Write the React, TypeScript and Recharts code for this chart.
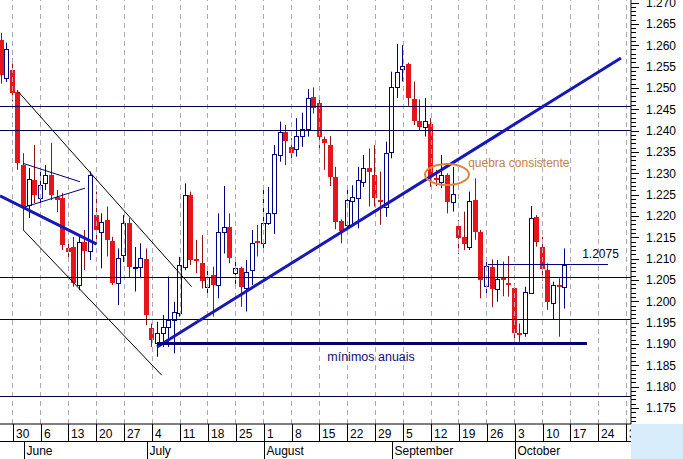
import { ComposedChart, Bar, XAxis, YAxis, ReferenceLine, ReferenceDot } from 'recharts';

// trading-day index: 0 = Mon 30 May 2005, first candle is Thu 26 May
const firstDay = -2;

const opens = [
  1.2612, 1.2523, 1.2543, 1.2491, 1.2319, 1.2226, 1.2284, 1.2241, 1.2276, 1.2296,
  1.2244, 1.2242, 1.2125, 1.2128, 1.2038, 1.2140, 1.2117, 1.2202, 1.2163, 1.2190,
  1.2142, 1.2042, 1.2108, 1.2183, 1.2079, 1.2080, 1.2098, 1.1937, 1.1902, 1.1925,
  1.1940, 1.1956, 1.1973, 1.2081, 1.2249, 1.2099, 1.2089, 1.2033, 1.2062, 1.2038,
  1.2162, 1.2175, 1.2066, 1.2077, 1.2030, 1.2073, 1.2142, 1.2136, 1.2184, 1.2208,
  1.2342, 1.2397, 1.2361, 1.2356, 1.2387, 1.2403, 1.2479, 1.2465, 1.2380, 1.2366,
  1.2292, 1.2188, 1.2179, 1.2236, 1.2241, 1.2280, 1.2313, 1.2296, 1.2237, 1.2222,
  1.2350, 1.2503, 1.2544, 1.2556, 1.2474, 1.2422, 1.2408, 1.2415, 1.2289, 1.2280,
  1.2296, 1.2233, 1.2176, 1.2150, 1.2128, 1.2237, 1.2163, 1.2036, 1.2080, 1.2028,
  1.2054, 1.2042, 1.2030, 1.1926, 1.1926, 1.2020, 1.2197, 1.2127, 1.2073, 1.1995,
  1.2039, 1.2033,
];
const highs = [
  1.2629, 1.2606, 1.2569, 1.2495, 1.2347, 1.2312, 1.2366, 1.2312, 1.2319, 1.2371,
  1.2261, 1.2254, 1.2144, 1.2151, 1.2151, 1.2167, 1.2304, 1.2257, 1.2206, 1.2222,
  1.2151, 1.2124, 1.2202, 1.2195, 1.2127, 1.2136, 1.2124, 1.1948, 1.1952, 1.1968,
  1.2058, 1.1999, 1.2104, 1.2276, 1.2257, 1.2144, 1.2155, 1.2081, 1.2081, 1.2206,
  1.2270, 1.2206, 1.2104, 1.2081, 1.2097, 1.2167, 1.2179, 1.2265, 1.2268, 1.2366,
  1.2421, 1.2413, 1.2382, 1.2429, 1.2442, 1.2497, 1.2501, 1.2473, 1.2386, 1.2387,
  1.2315, 1.2192, 1.2265, 1.2272, 1.2315, 1.2343, 1.2358, 1.2366, 1.2304, 1.2374,
  1.2538, 1.2603, 1.2600, 1.2559, 1.2515, 1.2473, 1.2476, 1.2429, 1.2308, 1.2343,
  1.2300, 1.2315, 1.2190, 1.2210, 1.2257, 1.2288, 1.2167, 1.2098, 1.2098, 1.2097,
  1.2093, 1.2106, 1.2042, 1.1948, 1.2034, 1.2223, 1.2202, 1.2151, 1.2089, 1.2046,
  1.2054, 1.2124,
];
const lows = [
  1.2510, 1.2514, 1.2468, 1.2308, 1.2167, 1.2195, 1.2230, 1.2230, 1.2261, 1.2237,
  1.2209, 1.2120, 1.2101, 1.2034, 1.2026, 1.2073, 1.2097, 1.2144, 1.2077, 1.2105,
  1.2038, 1.1991, 1.2092, 1.2055, 1.2023, 1.2054, 1.1944, 1.1893, 1.1870, 1.1893,
  1.1893, 1.1878, 1.1964, 1.2073, 1.2085, 1.2066, 1.2030, 1.2019, 1.1964, 1.2007,
  1.2112, 1.2089, 1.2034, 1.1987, 1.1976, 1.2038, 1.2105, 1.2124, 1.2179, 1.2158,
  1.2327, 1.2319, 1.2323, 1.2339, 1.2362, 1.2386, 1.2440, 1.2358, 1.2308, 1.2270,
  1.2169, 1.2136, 1.2167, 1.2175, 1.2171, 1.2268, 1.2222, 1.2222, 1.2179, 1.2198,
  1.2335, 1.2476, 1.2515, 1.2458, 1.2413, 1.2401, 1.2386, 1.2268, 1.2270, 1.2265,
  1.2206, 1.2210, 1.2111, 1.2120, 1.2120, 1.2144, 1.2007, 1.2019, 1.1986, 1.1999,
  1.2012, 1.2011, 1.1905, 1.1905, 1.1917, 1.2019, 1.2128, 1.2048, 1.1980, 1.1958,
  1.1917, 1.1983,
];
const closes = [
  1.2530, 1.2590, 1.2489, 1.2323, 1.2222, 1.2286, 1.2249, 1.2272, 1.2296, 1.2249,
  1.2237, 1.2132, 1.2115, 1.2042, 1.2140, 1.2117, 1.2296, 1.2167, 1.2186, 1.2144,
  1.2044, 1.2101, 1.2184, 1.2080, 1.2081, 1.2101, 1.1968, 1.1909, 1.1925, 1.1940,
  1.1956, 1.1975, 1.2085, 1.2249, 1.2097, 1.2094, 1.2048, 1.2058, 1.2038, 1.2163,
  1.2173, 1.2101, 1.2077, 1.2034, 1.2069, 1.2137, 1.2137, 1.2184, 1.2206, 1.2345,
  1.2397, 1.2376, 1.2347, 1.2387, 1.2403, 1.2477, 1.2452, 1.2384, 1.2370, 1.2291,
  1.2186, 1.2165, 1.2237, 1.2245, 1.2284, 1.2312, 1.2304, 1.2241, 1.2234, 1.2348,
  1.2501, 1.2538, 1.2551, 1.2476, 1.2423, 1.2409, 1.2422, 1.2292, 1.2285, 1.2296,
  1.2233, 1.2251, 1.2148, 1.2134, 1.2235, 1.2163, 1.2050, 1.2083, 1.2028, 1.2052,
  1.2050, 1.2037, 1.1926, 1.1923, 1.2022, 1.2194, 1.2140, 1.2076, 1.1999, 1.2038,
  1.2036, 1.2085,
];

// one label per Monday (index 0, 5, 10, ...)
const mondayLabels = ['30', '6', '13', '20', '27', '4', '11', '18', '25', '1', '8', '15', '22', '29', '5', '12', '19', '26', '3', '10', '17', '24', '31'];
const months = ['June', 'July', 'August', 'September', 'October'];
const monthStarts = [2, 24, 45, 68, 90];

// horizontal support / resistance levels
const levels = [1.2457, 1.2399, 1.2055, 1.1958, 1.1778];
const annualLow = { from: 25.87, to: 102.96, price: 1.19 };
const lastBreak = { from: 85.16, to: 106.72, price: 1.2087 };

// thin drawn lines (channel + triangle), [day1, price1, day2, price2]
const thinLines = [
  [1.0, 1.2491, 32.09, 1.2034],
  [1.9, 1.2167, 26.71, 1.1827],
  [1.9, 1.2323, 12.07, 1.2280],
  [2.2, 1.2221, 12.96, 1.2265],
];
// thick trend lines
const trendLines = [
  [-2.277, 1.2247, 15.06, 1.2134],
  [25.87, 1.1893, 109.05, 1.2570],
];

const W = 631;
const H = 424;

const candles = opens.map((o, i) => ({ d: firstDay + i, o, h: highs[i], l: lows[i], c: closes[i] }));

const priceTicks: number[] = [];
for (let k = 1172; k <= 1270; k++) priceTicks.push(k / 1000);

const dayTicks: number[] = [];
mondayLabels.forEach((_, i) => dayTicks.push(i * 5));
monthStarts.forEach((m) => { if (!dayTicks.includes(m)) dayTicks.push(m); });
dayTicks.sort((a, b) => a - b);

const font = 'Arial, "Liberation Sans", sans-serif';

const Candle = (props: any) => {
  const { x, y, width, height, payload } = props;
  if (!payload || !isFinite(x) || !isFinite(y)) return null;
  const c = Math.floor(x + width / 2);
  const top = Math.min(y, y + height);
  const bot = Math.max(y, y + height);
  const span = payload.h - payload.l || 1e-6;
  const py = (p: number) => top + ((payload.h - p) / span) * (bot - top);
  const bTop = Math.round(py(Math.max(payload.o, payload.c)));
  const bBot = Math.round(py(Math.min(payload.o, payload.c)));
  const up = payload.c >= payload.o;
  if (up) {
    return (
      <g>
        <line x1={c + 0.5} x2={c + 0.5} y1={top} y2={bot} stroke="#000080" />
        <rect x={c - 1.5} y={bTop + 0.5} width={4} height={Math.max(1, bBot - bTop)} fill="#fff" stroke="#000080" />
      </g>
    );
  }
  return (
    <g>
      <line x1={c + 0.5} x2={c + 0.5} y1={top} y2={bot} stroke="#8c1414" />
      <rect x={c - 2} y={bTop} width={5} height={Math.max(2, bBot - bTop)} fill="#e8141c" />
    </g>
  );
};

const PriceTick = ({ x, y, payload }: any) => {
  const v = payload.value;
  const major = Math.round(v * 1000) % 5 === 0;
  const yy = Math.round(y) + 0.5;
  return (
    <g>
      <line x1={x} x2={x + (major ? 8 : 5)} y1={yy} y2={yy} stroke="#000" />
      {major && (
        <text x={x + 15} y={y + 4.5} fontSize={12} fontFamily={font} fill="#000">
          {v.toFixed(3)}
        </text>
      )}
    </g>
  );
};

const DateTick = ({ x, y, payload }: any) => {
  const d = payload.value;
  const xx = Math.round(x) + 0.5;
  const m = monthStarts.indexOf(d);
  return (
    <g>
      {d === dayTicks[0] && <line x1={0} x2={W} y1={y + 17.5} y2={y + 17.5} stroke="#000" />}
      {d % 5 === 0 && (
        <g>
          <line x1={xx} x2={xx} y1={y} y2={y + 17} stroke="#000" />
          <text x={xx + 2.5} y={y + 14} fontSize={12} fontFamily={font} fill="#000">
            {mondayLabels[d / 5]}
          </text>
        </g>
      )}
      {m >= 0 && (
        <g>
          <line x1={xx} x2={xx} y1={y + 17} y2={y + 35} stroke="#000" />
          <text x={xx + 2} y={y + 31} fontSize={12} fontFamily={font} fill="#000">
            {months[m]}
          </text>
        </g>
      )}
    </g>
  );
};

const textDot = (value: string, color: string, size: number) => (p: any) => (
  <text x={p.cx} y={p.cy} fontSize={size} fontFamily={font} fill={color}>
    {value}
  </text>
);

export default function App() {
  return (
    <div style={{ position: 'relative', width: 683, height: 459, background: '#fff' }}>
      <style>{'body{margin:0}'}</style>
      <ComposedChart width={683} height={459} data={candles} margin={{ top: 0, right: 0, bottom: 0, left: 0 }}>
        <XAxis
          dataKey="d"
          type="number"
          domain={[-2.277, 110.85]}
          allowDataOverflow
          ticks={dayTicks}
          interval={0}
          height={35}
          tickSize={0}
          tickMargin={0}
          tickLine={false}
          axisLine={{ stroke: '#000' }}
          tick={<DateTick />}
        />
        <YAxis
          orientation="right"
          type="number"
          domain={[1.17125, 1.27059]}
          allowDataOverflow
          ticks={priceTicks}
          interval={0}
          width={683 - W}
          tickSize={0}
          tickMargin={0}
          tickLine={false}
          axisLine={{ stroke: '#000' }}
          tick={<PriceTick />}
        />
        {mondayLabels.map((_, i) => (
          <ReferenceLine key={'g' + i} x={i * 5} stroke="#b3a4b8" strokeDasharray="5 4" shapeRendering="crispEdges" ifOverflow="visible" />
        ))}
        {levels.map((v) => (
          <ReferenceLine key={'l' + v} y={v} stroke="#000048" strokeWidth={1} shapeRendering="crispEdges" />
        ))}
        <Bar dataKey={(e: any) => [e.l, e.h]} barSize={5} shape={Candle} isAnimationActive={false} />
        {thinLines.map((s, i) => (
          <ReferenceLine
            key={'t' + i}
            segment={[{ x: s[0], y: s[1] }, { x: s[2], y: s[3] }]}
            stroke={i < 2 ? '#000' : '#000080'}
            strokeWidth={1}
            ifOverflow="visible"
          />
        ))}
        {trendLines.map((s, i) => (
          <ReferenceLine
            key={'b' + i}
            segment={[{ x: s[0], y: s[1] }, { x: s[2], y: s[3] }]}
            stroke="#1818b8"
            strokeWidth={3}
            ifOverflow="visible"
          />
        ))}
        <ReferenceLine
          segment={[{ x: annualLow.from, y: annualLow.price }, { x: annualLow.to, y: annualLow.price }]}
          stroke="#000070"
          strokeWidth={3}
          shapeRendering="crispEdges"
          ifOverflow="visible"
        />
        <ReferenceLine
          segment={[{ x: lastBreak.from, y: lastBreak.price }, { x: lastBreak.to, y: lastBreak.price }]}
          stroke="#000080"
          strokeWidth={1}
          shapeRendering="crispEdges"
          ifOverflow="visible"
        />
        <ReferenceDot
          x={77.86}
          y={1.2297}
          r={2}
          ifOverflow="visible"
          shape={(p: any) => <ellipse cx={p.cx} cy={p.cy} rx={22} ry={10.5} fill="none" stroke="#e0843c" strokeWidth={2} />}
        />
        <ReferenceDot x={81.65} y={1.2315} r={1} ifOverflow="visible" shape={textDot('quebra consistente', '#c8803e', 12)} />
        <ReferenceDot x={56.4} y={1.1860} r={1} ifOverflow="visible" shape={textDot('mínimos anuais', '#101070', 12.5)} />
        <ReferenceDot x={102.1} y={1.2101} r={1} ifOverflow="visible" shape={textDot('1.2075', '#000030', 12)} />
      </ComposedChart>
      <div style={{ position: 'absolute', left: W, top: H, width: 683 - W, height: 459 - H, background: '#d6ecfb' }} />
    </div>
  );
}
